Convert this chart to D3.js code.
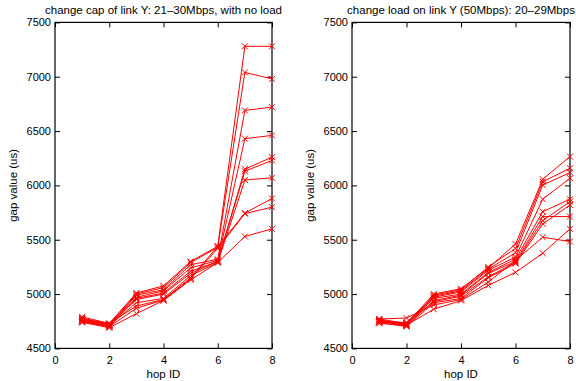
<!DOCTYPE html>
<html>
<head>
<meta charset="utf-8">
<script src="https://cdn.jsdelivr.net/npm/d3@7"></script>
<style>
  body { margin: 0; background: #fff; }
  text { font-family: "Liberation Sans", Arial, sans-serif; }
</style>
</head>
<body>
<svg id="chart"></svg>
<script>
var width = 576, height = 381;

var hops = [1, 2, 3, 4, 5, 6, 7, 8];
var xTicks = [0, 2, 4, 6, 8];
var yTicks = [4500, 5000, 5500, 6000, 6500, 7000, 7500];

// left panel: link capacity 21..30 Mbps
var capSeries = [
  [4790, 4730, 5010, 5075, 5300, 5440, 7280, 7280],
  [4770, 4720, 5000, 5060, 5290, 5430, 7040, 6980],
  [4760, 4710, 4990, 5040, 5270, 5320, 6690, 6720],
  [4780, 4720, 4970, 5030, 5240, 5310, 6430, 6460],
  [4750, 4700, 4960, 5010, 5210, 5300, 6150, 6260],
  [4760, 4720, 4950, 5000, 5190, 5300, 6130, 6230],
  [4740, 4710, 4920, 4960, 5170, 5290, 6050, 6070],
  [4770, 4730, 4890, 4950, 5150, 5440, 5745, 5880],
  [4750, 4700, 4870, 4945, 5140, 5420, 5740, 5800],
  [4740, 4690, 4820, 4940, 5130, 5290, 5530, 5600]
];

// right panel: load 20..29 Mbps on 50 Mbps link
var loadSeries = [
  [4770, 4730, 5000, 5050, 5240, 5460, 6057, 6265],
  [4760, 4720, 4990, 5040, 5250, 5420, 6034, 6158],
  [4750, 4710, 4980, 5030, 5230, 5380, 6004, 6118],
  [4740, 4740, 4970, 5020, 5220, 5340, 5873, 6066],
  [4760, 4720, 4960, 5000, 5200, 5320, 5758, 5873],
  [4730, 4710, 4940, 4990, 5190, 5300, 5713, 5713],
  [4750, 4730, 4930, 4980, 5160, 5290, 5676, 5851],
  [4740, 4700, 4920, 4960, 5150, 5280, 5645, 5820],
  [4770, 4780, 4900, 4950, 5110, 5310, 5523, 5483],
  [4745, 4715, 4860, 4940, 5080, 5200, 5376, 5600]
];

var svg = d3.select("#chart")
    .attr("width", width)
    .attr("height", height);

var panels = [
  {title: "change cap of link Y: 21\u201330Mbps, with no load", series: capSeries, x0: 55, x1: 272},
  {title: "change load on link Y (50Mbps): 20\u201329Mbps", series: loadSeries, x0: 352, x1: 570}
];

var yTop = 22.4, yBottom = 348.4;

panels.forEach(function(p) {
    var x = d3.scaleLinear().domain([0, 8]).range([p.x0, p.x1]);
    var y = d3.scaleLinear().domain([4500, 7500]).range([yBottom, yTop]);
    var g = svg.append("g");

    var axisStyle = function(sel) {
        sel.select(".domain").remove();
        sel.selectAll("line").attr("stroke", "#000").attr("stroke-width", 1);
        sel.selectAll("text").attr("font-size", 11).attr("fill", "#000")
            .attr("font-family", "'Liberation Sans', Arial, sans-serif");
    };

    g.append("g").attr("transform", "translate(0," + yBottom + ")")
        .call(d3.axisBottom(x).tickValues(xTicks).tickSizeInner(-5).tickSizeOuter(0).tickPadding(8))
        .call(axisStyle);
    g.append("g").attr("transform", "translate(0," + yTop + ")")
        .call(d3.axisTop(x).tickValues(xTicks).tickSizeInner(-5).tickSizeOuter(0).tickFormat(""))
        .call(axisStyle);
    g.append("g").attr("transform", "translate(" + p.x0 + ",0)")
        .call(d3.axisLeft(y).tickValues(yTicks).tickSizeInner(-5).tickSizeOuter(0).tickPadding(4)
            .tickFormat(d3.format("d")))
        .call(axisStyle);
    g.append("g").attr("transform", "translate(" + p.x1 + ",0)")
        .call(d3.axisRight(y).tickValues(yTicks).tickSizeInner(-5).tickSizeOuter(0).tickFormat(""))
        .call(axisStyle);

    g.append("rect")
        .attr("x", p.x0).attr("y", yTop)
        .attr("width", p.x1 - p.x0).attr("height", yBottom - yTop)
        .attr("fill", "none").attr("stroke", "#000").attr("stroke-width", 1.2);

    var line = d3.line()
        .x(function(d, i) { return x(hops[i]); })
        .y(function(d) { return y(d); });

    g.selectAll("path.series").data(p.series).enter().append("path")
        .attr("class", "series")
        .attr("d", line)
        .attr("fill", "none")
        .attr("stroke", "#ff0000")
        .attr("stroke-width", 1);

    var pts = [];
    p.series.forEach(function(s) {
        s.forEach(function(v, i) { pts.push([hops[i], v]); });
    });
    g.selectAll("path.mark").data(pts).enter().append("path")
        .attr("class", "mark")
        .attr("d", function(d) {
            var cx = x(d[0]), cy = y(d[1]), r = 3;
            return "M" + (cx - r) + "," + (cy - r) + "L" + (cx + r) + "," + (cy + r) +
                   "M" + (cx - r) + "," + (cy + r) + "L" + (cx + r) + "," + (cy - r);
        })
        .attr("stroke", "#ff0000")
        .attr("stroke-width", 1);

    var cx = (p.x0 + p.x1) / 2;
    g.append("text").attr("x", cx).attr("y", 14)
        .attr("text-anchor", "middle").attr("font-size", 11.5)
        .text(p.title);
    g.append("text").attr("x", cx).attr("y", 378)
        .attr("text-anchor", "middle").attr("font-size", 11.5)
        .text("hop ID");
    g.append("text")
        .attr("transform", "translate(" + (p.x0 - 38) + "," + ((yTop + yBottom) / 2) + ") rotate(-90)")
        .attr("text-anchor", "middle").attr("font-size", 11.5)
        .text("gap value (us)");
});
</script>
</body>
</html>
